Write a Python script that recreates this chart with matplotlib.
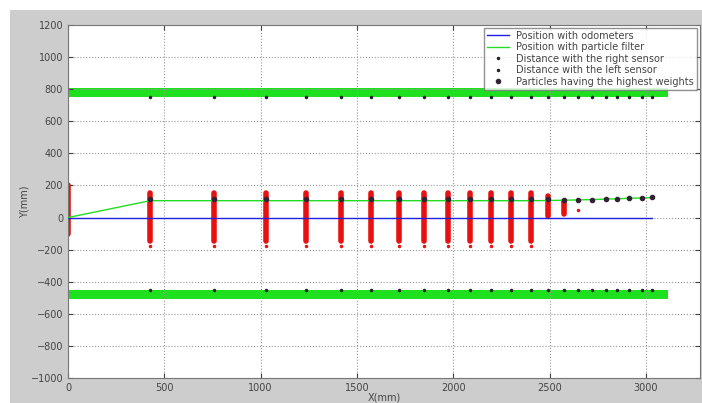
import matplotlib.pyplot as plt
from matplotlib.patches import Rectangle

# cluster / step positions along x (mm)
steps_x = [426, 758, 1028, 1235, 1417, 1572, 1718, 1847, 1972, 2086, 2195, 2299, 2403, 2491, 2574, 2647]
tail_x = [2719, 2792, 2850, 2912, 2979, 3031]

# odometer estimate
odo_x = [0, 426, 1028, 1572, 2086, 2491, 3031]
odo_y = [0, 0, 0, 0, 0, 0, 0]

# particle filter estimate
pf_x = [0] + steps_x + tail_x
pf_y = [0, 105, 105, 105, 105, 105, 105, 105, 105, 105, 105, 105, 105, 105, 106, 108, 110,
        112, 115, 117, 120, 122, 125]

# best particles
best_x = steps_x + tail_x
best_y = [115, 115, 115, 116, 116, 116, 116, 116, 116, 116, 116, 116, 117, 118, 112, 110,
          112, 115, 117, 120, 122, 125]

# sensor readings on the walls
right_x = steps_x + tail_x
right_y = [750] * len(right_x)
left_x = steps_x + tail_x
left_y = [-450] * len(left_x)

# walls
wall_x = [0, 3113]
top_wall = (750, 805)
bottom_wall = (-505, -450)

# particle clouds (spread at each step)
cloud_x = [0] + steps_x[:-1]
cloud_hi = [200, 150, 150, 150, 150, 150, 150, 150, 150, 150, 150, 150, 150, 150, 137, 106]
cloud_lo = [-100, -145, -145, -145, -145, -145, -145, -145, -145, -145, -145, -145, -145, -145, 12, 25]
stray_x = steps_x[:13] + [2647]
stray_y = [-175] * 13 + [44]

fig = plt.figure(figsize=(7.02, 4.03), dpi=100, facecolor='white')
fig.patches.append(Rectangle((10 / 702, 0), 1, (403 - 10) / 403, transform=fig.transFigure,
                             facecolor='#cdcdcd', edgecolor='none', zorder=-10))
ax = fig.add_axes([68 / 702, 25 / 403, 632 / 702, 353 / 403])

ax.fill_between(wall_x, top_wall[0], top_wall[1], color='#1ee01e', lw=0, zorder=1)
ax.fill_between(wall_x, bottom_wall[0], bottom_wall[1], color='#1ee01e', lw=0, zorder=1)

ax.vlines(cloud_x, cloud_lo, cloud_hi, color='#e81010', lw=4, capstyle='round', zorder=2)
ax.plot(stray_x, stray_y, '.', color='#e81010', ms=3, zorder=2)

ax.plot(odo_x, odo_y, '-', color='#2020e0', lw=1, label='Position with odometers', zorder=3)
ax.plot(pf_x, pf_y, '-', color='#22dd22', lw=1, label='Position with particle filter', zorder=3)
ax.plot(right_x, right_y, '.', color='#222222', ms=3, label='Distance with the right sensor', zorder=4)
ax.plot(left_x, left_y, '.', color='#222222', ms=3, label='Distance with the left sensor', zorder=4)
ax.plot(best_x, best_y, 'o', color='#332233', ms=3, label='Particles having the highest weights', zorder=5)

ax.set_xlim(0, 3280)
ax.set_ylim(-1000, 1200)
ax.set_xticks(range(0, 3001, 500))
ax.set_yticks(range(-1000, 1201, 200))
ax.grid(True, color='#999999', linestyle=':', lw=0.8)
ax.tick_params(direction='in', top=True, right=True, labelsize=7, colors='#444444')
for s in ax.spines.values():
    s.set_color('#777777')

ax.set_xlabel('X(mm)', fontsize=7, color='#444444', labelpad=0)
ax.set_ylabel('Y(mm)', fontsize=7, color='#444444', labelpad=1)

leg = ax.legend(loc='upper right', fontsize=7, frameon=True, handlelength=2.2,
                borderaxespad=0.3, labelspacing=0.15, borderpad=0.3, fancybox=False)
leg.get_frame().set_edgecolor('#777777')
for t in leg.get_texts():
    t.set_color('#444444')

fig.savefig('out.png', dpi=100, facecolor=fig.get_facecolor())
